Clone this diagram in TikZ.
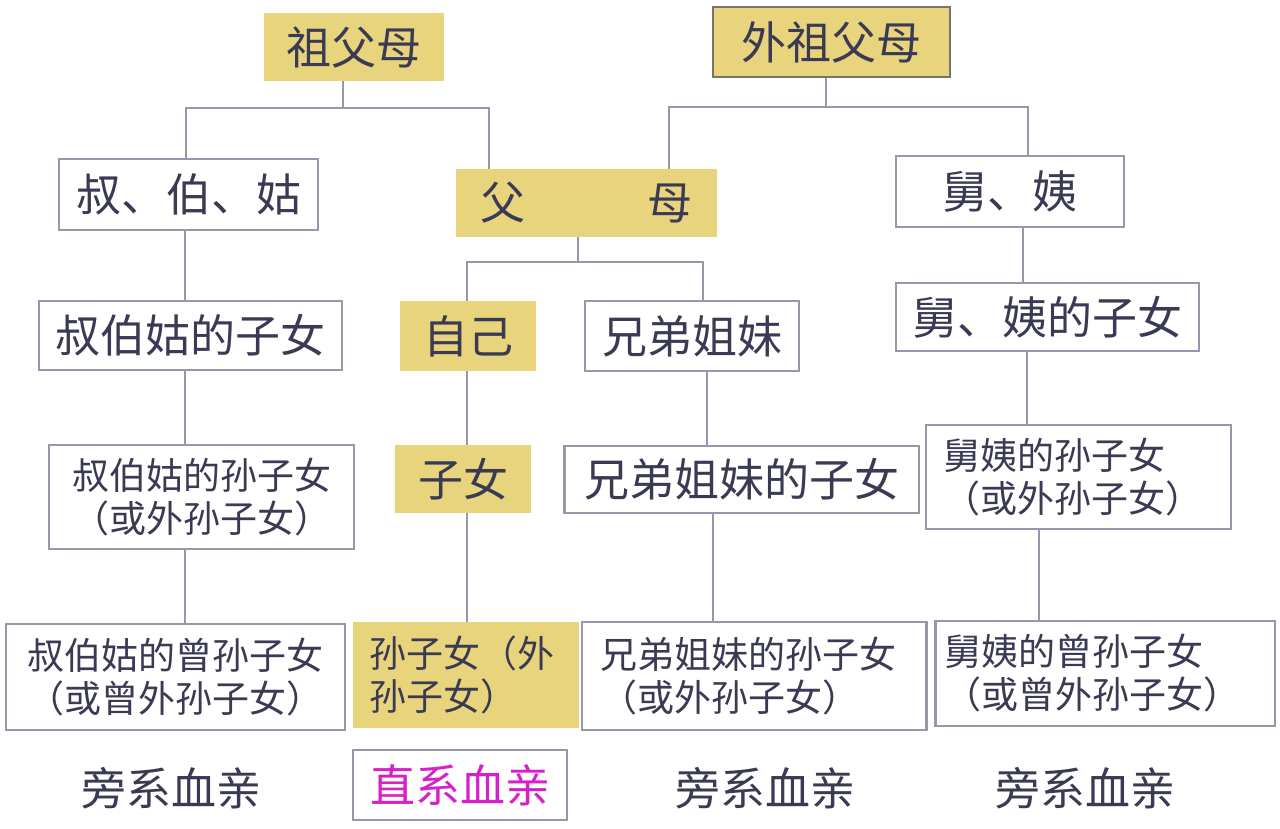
\documentclass[tikz,border=0pt]{standalone}
\usepackage{fontspec}
\setmainfont{Noto Sans CJK SC}
\definecolor{gold}{RGB}{232,212,124}
\definecolor{lineg}{RGB}{152,152,172}
\definecolor{bordd}{RGB}{120,116,104}
\definecolor{txt}{RGB}{58,58,84}
\definecolor{mag}{RGB}{214,32,200}
\begin{document}
\begin{tikzpicture}[x=1pt,y=-1pt,
  wbox/.style={draw=lineg, line width=2.8pt, fill=white, inner sep=0pt, text=txt},
  ybox/.style={fill=gold, inner sep=0pt, text=txt},
  big/.style={font=\fontsize{45}{52}\selectfont},
  small/.style={font=\fontsize{37}{43}\selectfont},
  conn/.style={draw=lineg, line width=2.8pt},
  lab/.style={text=txt, inner sep=0pt, font=\fontsize{45}{52}\selectfont}]
\useasboundingbox[fill=white] (0,0) rectangle (1280,829);

% junction and column coordinates
\coordinate (j1) at (343,108);
\coordinate (j1L) at (186,108);
\coordinate (j1R) at (489,108);
\coordinate (j2) at (826,107);
\coordinate (j2L) at (669,107);
\coordinate (j2R) at (1028,107);
\coordinate (j3) at (578,262);
\coordinate (j3L) at (467,262);
\coordinate (j3R) at (703,262);
\coordinate (xL) at (185,0);
\coordinate (xM) at (467,0);
\coordinate (xS1) at (707,0);
\coordinate (xS2) at (713,0);
\coordinate (xR1) at (1023,0);
\coordinate (xR2) at (1027,0);
\coordinate (xR3) at (1039,0);

% level 0
\node[ybox,big,minimum width=180,minimum height=68] (gfm) at (354,47) {祖父母};
\node[ybox,big,draw=bordd,line width=2.4pt,minimum width=237,minimum height=70] (wgfm) at (831.5,42) {外祖父母\hspace{30pt}};
% level 1
\node[wbox,big,minimum width=259,minimum height=71] (sbg) at (188.5,194.5) {叔、伯、姑};
\node[ybox,big,minimum width=261,minimum height=68] (fm) at (586.5,203) {父\hspace{122pt}母\hspace{17pt}};
\node[wbox,big,minimum width=228,minimum height=71] (jy) at (1010,191.5) {舅、姨\hspace{36pt}};
% level 2
\node[wbox,big,minimum width=303,minimum height=69] (sbgc) at (190.5,335.5) {叔伯姑的子女};
\node[ybox,big,minimum width=136,minimum height=70] (self) at (468,336) {自己};
\node[wbox,big,minimum width=214,minimum height=70] (sib) at (692,336) {兄弟姐妹};
\node[wbox,big,minimum width=303,minimum height=68] (jyc) at (1047.5,317) {舅、姨的子女};
% level 3
\node[wbox,small,minimum width=305,minimum height=104,align=center] (sbgg) at (201.5,497) {叔伯姑的孙子女\\（或外孙子女）};
\node[ybox,big,minimum width=136,minimum height=68] (son) at (463,479) {子女\hspace{16pt}};
\node[wbox,big,minimum width=354.5,minimum height=67] (sibc) at (741.75,479.5) {兄弟姐妹的子女\hspace{6pt}};
\node[wbox,small,minimum width=305,minimum height=104,text width=271,align=left] (jyg) at (1078.5,477) {舅姨的孙子女\\（或外孙子女）};
% level 4
\node[wbox,small,minimum width=339,minimum height=106,align=center] (sbggg) at (175.5,677) {叔伯姑的曾孙子女\\（或曾外孙子女）};
\node[ybox,small,minimum width=226,minimum height=106,text width=194,align=left] (gson) at (466,675) {孙子女（外\\孙子女）};
\node[wbox,small,minimum width=344.5,minimum height=108,text width=308,align=left] (sibg) at (754.25,676) {兄弟姐妹的孙子女\\（或外孙子女）};
\node[wbox,small,minimum width=339.5,minimum height=105,text width=322,align=left] (jygg) at (1105.25,673.5) {舅姨的曾孙子女\\（或曾外孙子女）};
% bottom labels
\node[lab] (l1) at (171,788) {旁系血亲};
\node[wbox,big,text=mag,minimum width=214,minimum height=70] (zx) at (460,785) {直系血亲};
\node[lab] (l3) at (765,788) {旁系血亲};
\node[lab] (l4) at (1085,788) {旁系血亲};

% connectors
\draw[conn] (gfm.south -| j1) -- (j1);
\draw[conn] (sbg.north -| j1L) -- (j1L) -- (j1R) -- (fm.north -| j1R);
\draw[conn] (wgfm.south -| j2) -- (j2);
\draw[conn] (fm.north -| j2L) -- (j2L) -- (j2R) -- (jy.north -| j2R);
\draw[conn] (fm.south -| j3) -- (j3);
\draw[conn] (self.north -| j3L) -- (j3L) -- (j3R) -- (sib.north -| j3R);
\draw[conn] (sbg.south -| xL) -- (sbgc.north -| xL);
\draw[conn] (sbgc.south -| xL) -- (sbgg.north -| xL);
\draw[conn] (sbgg.south -| xL) -- (sbggg.north -| xL);
\draw[conn] (self.south -| xM) -- (son.north -| xM);
\draw[conn] (son.south -| xM) -- (gson.north -| xM);
\draw[conn] (sib.south -| xS1) -- (sibc.north -| xS1);
\draw[conn] (sibc.south -| xS2) -- (sibg.north -| xS2);
\draw[conn] (jy.south -| xR1) -- (jyc.north -| xR1);
\draw[conn] (jyc.south -| xR2) -- (jyg.north -| xR2);
\draw[conn] (jyg.south -| xR3) -- (jygg.north -| xR3);
\end{tikzpicture}
\end{document}
